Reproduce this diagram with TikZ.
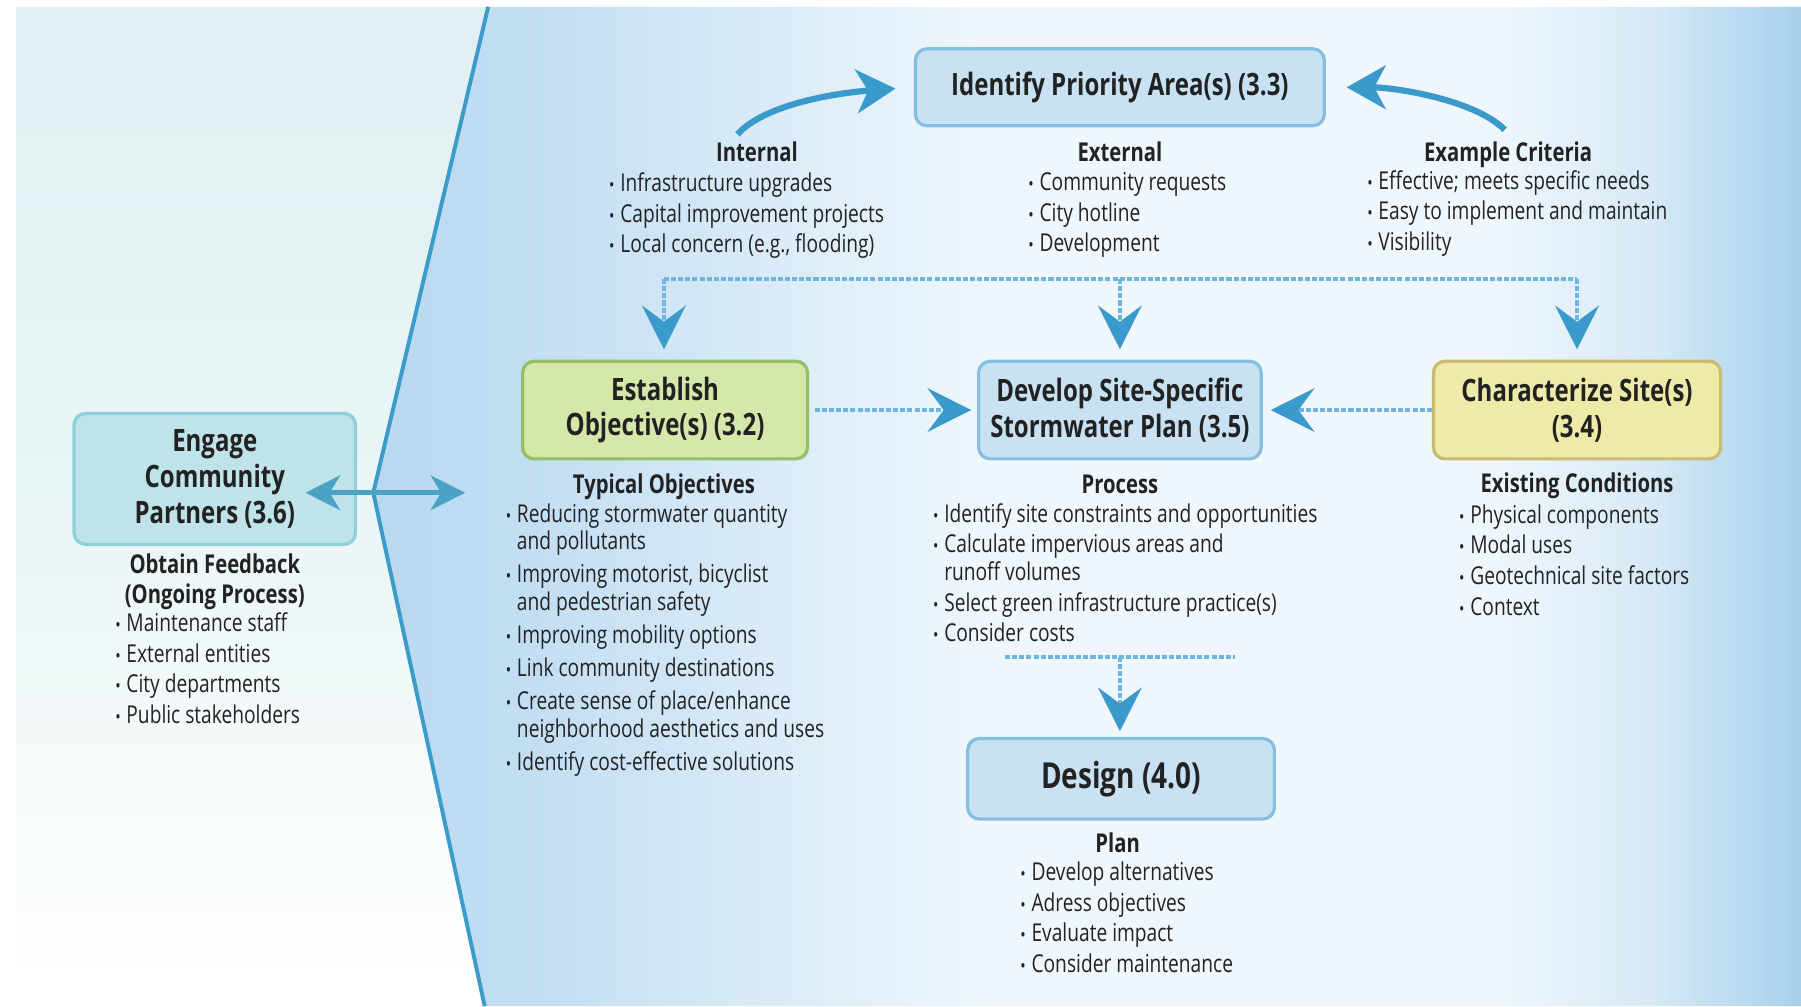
\documentclass[tikz,border=0pt]{standalone}
\usepackage{fontspec}
\setmainfont{Open Sans}[FakeStretch=0.78]
\usetikzlibrary{arrows.meta}
\definecolor{txt}{HTML}{222222}
\definecolor{arrblue}{HTML}{3A9ACB}
\definecolor{dotblue}{HTML}{6DB7DF}
\definecolor{lineblue}{HTML}{3B9BC9}
\definecolor{dblarrow}{HTML}{4AA3C4}
\definecolor{bbfill}{HTML}{C8E2F4}
\definecolor{bbedge}{HTML}{84BFE2}
\definecolor{gfill}{HTML}{D5E8A9}
\definecolor{gedge}{HTML}{93C064}
\definecolor{yfill}{HTML}{EEEAA8}
\definecolor{yedge}{HTML}{C8BC70}
\definecolor{tfill}{HTML}{BEE3E9}
\definecolor{tedge}{HTML}{8FCFD8}
\definecolor{lpA}{HTML}{E0EFF2}
\definecolor{lpB}{HTML}{EAF5F6}
\definecolor{rpA}{HTML}{B8D8F0}
\definecolor{rpB}{HTML}{C4DFF3}
\definecolor{rpC}{HTML}{EFF7FC}
\definecolor{rpD}{HTML}{D6E9F6}
\definecolor{rpE}{HTML}{A8D0EC}
\newcommand{\bul}{{\fontsize{8}{8}\selectfont •}\hspace{2.5pt}}
\newcommand{\cnt}{\hphantom{\bul}}
\newcommand{\boxfont}{\bfseries\fontsize{13.4}{15.5}\selectfont}
\newcommand{\designfont}{\bfseries\fontsize{15.6}{18}\selectfont}
\tikzset{
  box/.style={rounded corners=5pt, line width=1.4pt, align=center, text=txt, inner sep=0pt, font=\boxfont},
  bluebox/.style={box, fill=bbfill, draw=bbedge},
  greenbox/.style={box, fill=gfill, draw=gedge},
  yellowbox/.style={box, fill=yfill, draw=yedge},
  tealbox/.style={box, fill=tfill, draw=tedge},
  head/.style={font=\bfseries\fontsize{11.3}{12.8}\selectfont, text=txt, inner sep=0pt, anchor=base},
  blist/.style={font=\fontsize{10.7}{13.3}\selectfont, text=txt, align=left, anchor=north west, inner sep=0pt},
  dotline/.style={draw=dotblue, line width=2pt, dash pattern=on 2.2pt off 0.9pt},
  dotarrow/.style={dotline, -{Stealth[length=19pt, width=19pt, inset=7pt, color=arrblue]}},
  bigarrow/.style={draw=arrblue, line width=2.7pt, -{Stealth[length=17pt, width=19pt, inset=5pt]}},
  dblarr/.style={draw=dblarrow, line width=2.3pt, {Stealth[length=15pt, width=15pt, inset=4.5pt]}-{Stealth[length=15pt, width=15pt, inset=4.5pt]}}
}
\begin{document}
\begin{tikzpicture}[x=0.5pt,y=-0.5pt]
\useasboundingbox (0,0) rectangle (1568,876);
% background
\fill[white] (0,0) rectangle (1568,876);
\begin{scope}
  \clip (14,6) -- (425,6) -- (325,429) -- (416,860) -- (14,860) -- cycle;
  \shade[top color=lpA, bottom color=white, middle color=lpB] (14,6) rectangle (425,860);
\end{scope}
\begin{scope}
  \clip (425,6) -- (1568,6) -- (1568,876) -- (422,876) -- (325,429) -- cycle;
  \shade[left color=rpA, right color=rpB] (320,0) rectangle (480,876);
  \shade[left color=rpB, right color=rpC] (479,0) rectangle (860,876);
  \fill[rpC] (859,0) rectangle (1301,876);
  \shade[left color=rpC, right color=rpD] (1300,0) rectangle (1441,876);
  \shade[left color=rpD, right color=rpE] (1440,0) rectangle (1568,876);
\end{scope}
\coordinate (vTop) at (425,6);
\coordinate (vApex) at (325,429);
\coordinate (vBot) at (422,876);
\draw[lineblue, line width=1.7pt] (vTop) -- (vApex) -- (vBot);

% boxes
\node[bluebox, minimum width=178pt, minimum height=33.5pt] (identify) at (975,76) {Identify Priority Area(s) (3.3)};
\node[greenbox, minimum width=124pt, minimum height=42.5pt] (objective) at (579,357) {Establish\\Objective(s) (3.2)};
\node[bluebox, minimum width=123pt, minimum height=42.5pt] (develop) at (975,357) {Develop Site-Specific\\Stormwater Plan (3.5)};
\node[yellowbox, minimum width=125pt, minimum height=42.5pt] (characterize) at (1373,357) {Characterize Site(s)\\(3.4)};
\node[tealbox, minimum width=122.5pt, minimum height=57pt] (engage) at (187,417) {Engage\\Community\\Partners (3.6)};
\node[bluebox, minimum width=133.5pt, minimum height=35pt, font=\designfont] (design) at (976,678) {Design (4.0)};

% headings
\node[head] (hInt) at (659,141) {Internal};
\node[head] (hExt) at (975,141) {External};
\node[head] (hCrit) at (1313,141) {Example Criteria};
\node[head] (hObj) at (578,430) {Typical Objectives};
\node[head] (hProc) at (975,430) {Process};
\node[head] (hExist) at (1373,429) {Existing Conditions};
\node[head, align=center, anchor=north] (hFeed) at (187,482) {Obtain Feedback\\(Ongoing Process)};
\node[head] (hPlan) at (973,742) {Plan};

% lists
\node[blist] (lInt) at (530,150) {\bul Infrastructure upgrades\\\bul Capital improvement projects\\\bul Local concern (e.g., flooding)};
\node[blist] (lExt) at (895,150) {\bul Community requests\\\bul City hotline\\\bul Development};
\node[blist] (lCrit) at (1190,148) {\bul Effective; meets specific needs\\\bul Easy to implement and maintain\\\bul Visibility};
\node[blist, font=\fontsize{10.7}{12}\selectfont] (lObj) at (440,438) {\bul Reducing stormwater quantity\\\cnt and pollutants\\[2.4pt]\bul Improving motorist, bicyclist\\\cnt and pedestrian safety\\[2.4pt]\bul Improving mobility options\\[2.4pt]\bul Link community destinations\\[2.4pt]\bul Create sense of place/enhance\\\cnt neighborhood aesthetics and uses\\[2.4pt]\bul Identify cost-effective solutions};
\node[blist, font=\fontsize{10.7}{12}\selectfont] (lProc) at (812,438) {\bul Identify site constraints and opportunities\\[1.3pt]\bul Calculate impervious areas and\\\cnt runoff volumes\\[1.3pt]\bul Select green infrastructure practice(s)\\[1.3pt]\bul Consider costs};
\node[blist] (lExist) at (1270,439) {\bul Physical components\\\bul Modal uses\\\bul Geotechnical site factors\\\bul Context};
\node[blist] (lFeed) at (100,533) {\bul Maintenance staff\\\bul External entities\\\bul City departments\\\bul Public stakeholders};
\node[blist] (lPlan) at (888,750) {\bul Develop alternatives\\\bul Adress objectives\\\bul Evaluate impact\\\bul Consider maintenance};

% curved arrows into Identify
\coordinate (cIn) at (642,117);
\coordinate (cCrit) at (1310,113);
\draw[bigarrow, shorten >=8pt] (cIn) .. controls (668,88) and (740,80) .. (identify.west);
\draw[bigarrow, shorten >=9pt] (cCrit) .. controls (1283,86) and (1212,76) .. (identify.east);

% dotted distribution line
\coordinate (hubL) at (578,243);
\coordinate (hubM) at (975,243);
\coordinate (hubR) at (1373,243);
\draw[dotline] (hubL) -- (hubR);
\draw[dotarrow, shorten >=4.5pt] (hubL) -- (hubL |- objective.north);
\draw[dotarrow, shorten >=4.5pt] (hubM) -- (hubM |- develop.north);
\draw[dotarrow, shorten >=4.5pt] (hubR) -- (hubR |- characterize.north);

% horizontal dotted arrows
\draw[dotarrow, shorten <=2.5pt, shorten >=2.5pt] (objective.east) -- (develop.west);
\draw[dotarrow, shorten >=3.5pt] (characterize.west) -- (develop.east);

% process to design
\coordinate (pL) at (875,572);
\coordinate (pM) at (975,572);
\coordinate (pR) at (1075,572);
\draw[dotline] (pL) -- (pR);
\draw[dotarrow, shorten >=2.5pt] (pM) -- (pM |- design.north);

% engage double arrow
\coordinate (dL) at (266,429);
\coordinate (dR) at (405,429);
\draw[dblarr] (dL) -- (dR);
\end{tikzpicture}
\end{document}
